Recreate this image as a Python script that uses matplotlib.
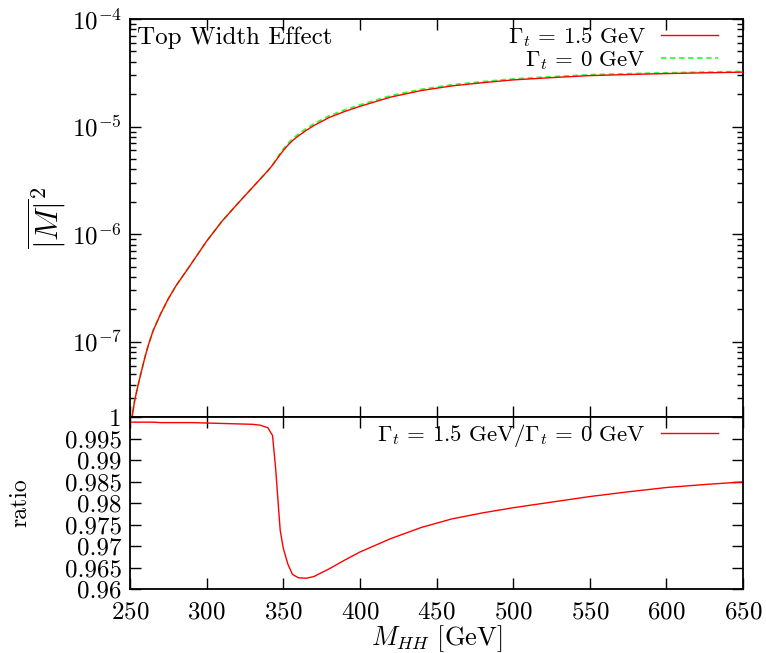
import numpy as np
import matplotlib
matplotlib.use("Agg")
import matplotlib.pyplot as plt
from matplotlib.ticker import LogLocator, MultipleLocator, FormatStrFormatter, NullFormatter

plt.rcParams["font.family"] = "serif"
plt.rcParams["font.serif"] = ["cmr10"]
plt.rcParams["mathtext.fontset"] = "cm"
plt.rcParams["axes.unicode_minus"] = False
plt.rcParams["axes.formatter.use_mathtext"] = True

# M_HH grid [GeV]
mhh = np.array([250, 251, 252, 253, 255, 257, 260, 262, 265, 270, 275, 280,
                290, 300, 310, 320, 330, 335, 340, 343, 345, 348, 350, 353,
                356, 360, 365, 370, 380, 390, 400, 420, 440, 460, 480, 500,
                525, 550, 575, 600, 625, 650])

# log10 |M|^2 for Gamma_t = 1.5 GeV
log_m2_width = np.array([-7.82, -7.73, -7.64, -7.55, -7.42, -7.30, -7.13, -7.03,
                         -6.90, -6.74, -6.60, -6.48, -6.275, -6.065, -5.88, -5.72,
                         -5.565, -5.487, -5.41, -5.358, -5.318, -5.26, -5.223, -5.173,
                         -5.13, -5.085, -5.035, -4.99, -4.915, -4.86, -4.812,
                         -4.726, -4.665, -4.622, -4.592, -4.566, -4.545, -4.526,
                         -4.516, -4.507, -4.50, -4.494])

# ratio Gamma_t = 1.5 GeV / Gamma_t = 0 GeV
ratio = np.array([0.9988, 0.9988, 0.9988, 0.9988, 0.9988, 0.9988, 0.9988, 0.9988,
                  0.9988, 0.9987, 0.9987, 0.9987, 0.9987, 0.9986, 0.9985, 0.9984,
                  0.9983, 0.9981, 0.9975, 0.9957, 0.9882, 0.9737, 0.9695, 0.9658,
                  0.9634, 0.9626, 0.9625, 0.9629, 0.9647, 0.9667, 0.9686, 0.9717,
                  0.9743, 0.9763, 0.9777, 0.9789, 0.9802, 0.9815, 0.9826, 0.9836,
                  0.9843, 0.9849])

m2_width = 10.0 ** log_m2_width
m2_nowidth = m2_width / ratio

fig = plt.figure(figsize=(7.66, 6.53), dpi=100)
ax1 = fig.add_axes([0.1697, 0.3614, 0.8003, 0.6095])
ax2 = fig.add_axes([0.1697, 0.0980, 0.8003, 0.2634])


def gp_ticks(ax):
    ax.tick_params(which="both", direction="in", top=True, right=True,
                   width=1.0, labelsize=18, pad=6)
    ax.tick_params(which="major", length=8)
    ax.tick_params(which="minor", length=4)
    for s in ax.spines.values():
        s.set_linewidth(1.3)


# top panel
ax1.plot(mhh, m2_width, color="#ff0000", lw=1.0,
         label=r"$\Gamma_t\,=\,1.5\ \mathrm{GeV}$", zorder=3)
ax1.plot(mhh, m2_nowidth, color="#33ff33", lw=1.3, dashes=(3, 2),
         label=r"$\Gamma_t\,=\,0\ \mathrm{GeV}$", zorder=2)
ax1.set_yscale("log")
ax1.set_xlim(250, 650)
ax1.set_ylim(2.0e-8, 1e-4)
ax1.yaxis.set_major_locator(LogLocator(base=10, numticks=10))
ax1.yaxis.set_minor_locator(LogLocator(base=10, subs=np.arange(2, 10), numticks=20))
ax1.yaxis.set_minor_formatter(NullFormatter())
ax1.xaxis.set_major_locator(MultipleLocator(50))
ax1.tick_params(labelbottom=False)
gp_ticks(ax1)
ax1.set_ylabel(r"$\overline{|M|}^2$", fontsize=23, labelpad=2)
ax1.text(0.012, 0.982, "Top Width Effect", transform=ax1.transAxes,
         ha="left", va="top", fontsize=18)
ax1.legend(loc="upper right", frameon=False, markerfirst=False,
           fontsize=16.5, handlelength=2.5, handletextpad=0.66,
           labelspacing=0.0, borderaxespad=0.0, bbox_to_anchor=(0.974, 1.007))

# bottom panel
ax2.plot(mhh, ratio, color="#ff0000", lw=1.0,
         label=r"$\Gamma_t\,=\,1.5\ \mathrm{GeV}/\Gamma_t\,=\,0\ \mathrm{GeV}$")
ax2.set_xlim(250, 650)
ax2.set_ylim(0.96, 1.0)
ax2.xaxis.set_major_locator(MultipleLocator(50))
ax2.yaxis.set_major_locator(MultipleLocator(0.005))
ax2.yaxis.set_major_formatter(FormatStrFormatter("%g"))
gp_ticks(ax2)
ax2.tick_params(axis="x", pad=9)
ax2.set_ylabel("ratio", fontsize=17, labelpad=24)
ax2.set_xlabel(r"$M_{HH}\ [\mathrm{GeV}]$", fontsize=19, labelpad=0)
ax2.legend(loc="upper right", frameon=False, markerfirst=False,
           fontsize=16.5, handlelength=2.5, handletextpad=0.66,
           borderaxespad=0.0, bbox_to_anchor=(0.974, 1.025))

fig.savefig("out.png", dpi=100)
